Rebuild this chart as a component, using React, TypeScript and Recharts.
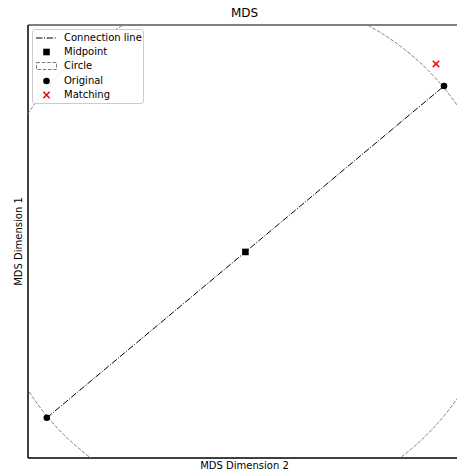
import React from "react";
import {
  ScatterChart,
  Scatter,
  XAxis,
  YAxis,
  ReferenceDot,
  ReferenceArea,
  Legend,
} from "recharts";

// ---- data ----
const xDomain: [number, number] = [-0.844, 0.837];
const yDomain: [number, number] = [-0.8, 0.881];
const originalPoints = [
  { x: -0.771, y: -0.644 },
  { x: 0.771, y: 0.644 },
];
const midpointPoints = [{ x: 0, y: 0 }];
const matchingPoints = [{ x: 0.74, y: 0.73 }];
const circleCenter = { x: 0, y: 0 };
const circleRadius = 1.0;
const legendLabels = ["Connection line", "Midpoint", "Circle", "Original", "Matching"];
const titleText = "MDS";
const xLabel = "MDS Dimension 2";
const yLabel = "MDS Dimension 1";

// ---- layout ----
const W = 470;
const H = 476;
const M = { top: 25, right: 9, bottom: 0, left: 0 };
const Y_AXIS_W = 28;
const X_AXIS_H = 18;
const PLOT_X = M.left + Y_AXIS_W;
const PLOT_Y = M.top;
const PLOT_W = W - M.left - M.right - Y_AXIS_W;
const PLOT_H = H - M.top - M.bottom - X_AXIS_H;
const PX_PER_UNIT = PLOT_W / (xDomain[1] - xDomain[0]);
const FONT = "'DejaVu Sans', sans-serif";

const DotShape = (p: any) => <circle cx={p.cx} cy={p.cy} r={3.3} fill="#000" />;
const SquareShape = (p: any) => (
  <rect x={p.cx - 3.3} y={p.cy - 3.3} width={6.6} height={6.6} fill="#000" />
);
const CrossShape = (p: any) => (
  <path
    d={`M${p.cx - 3.2},${p.cy - 3.2}L${p.cx + 3.2},${p.cy + 3.2}M${p.cx + 3.2},${p.cy - 3.2}L${p.cx - 3.2},${p.cy + 3.2}`}
    stroke="#ff0000"
    strokeWidth={1.5}
    fill="none"
  />
);
const NoShape = () => <g />;
const CircleShape = (p: any) => (
  <g>
    <defs>
      <clipPath id="mds-plot-clip">
        <rect x={PLOT_X} y={PLOT_Y} width={PLOT_W} height={PLOT_H} />
      </clipPath>
    </defs>
    <circle
      cx={p.cx}
      cy={p.cy}
      r={circleRadius * PX_PER_UNIT}
      fill="none"
      stroke="#808080"
      strokeWidth={1}
      strokeDasharray="3.7 1.6"
      clipPath="url(#mds-plot-clip)"
    />
  </g>
);

const handles = [
  <line x1={0} y1={7} x2={21} y2={7} stroke="#000" strokeWidth={1} strokeDasharray="6.4 1.6 1 1.6" />,
  <rect x={7.2} y={3.7} width={6.6} height={6.6} fill="#000" />,
  <rect x={0.5} y={3.5} width={20} height={7} fill="none" stroke="#808080" strokeWidth={1} strokeDasharray="3.7 1.6" />,
  <circle cx={10.5} cy={7} r={3.3} fill="#000" />,
  <path d="M7.3,3.8L13.7,10.2M13.7,3.8L7.3,10.2" stroke="#ff0000" strokeWidth={1.5} fill="none" />,
];

const LegendBox = () => (
  <div
    style={{
      boxSizing: "border-box",
      width: 112,
      height: 75,
      border: "1px solid #cccccc",
      borderRadius: 3,
      background: "rgba(255,255,255,0.8)",
      paddingTop: 0.5,
      fontFamily: FONT,
      fontSize: 10,
      color: "#000",
    }}
  >
    {legendLabels.map((label, i) => (
      <div key={label} style={{ display: "flex", alignItems: "center", height: 14.3 }}>
        <svg width={21} height={14} style={{ marginLeft: 3, marginRight: 7, display: "block" }}>
          {handles[i]}
        </svg>
        <span style={{ lineHeight: "14px", whiteSpace: "nowrap" }}>{label}</span>
      </div>
    ))}
  </div>
);

const XLabel = (props: any) => {
  const vb = props.viewBox;
  return (
    <text x={vb.x + vb.width / 2} y={vb.y + 10.5} textAnchor="middle" fontFamily={FONT} fontSize={10} fill="#000">
      {xLabel}
    </text>
  );
};
const YLabel = (props: any) => {
  const vb = props.viewBox;
  const x = 22;
  const y = vb.y + vb.height / 2;
  return (
    <text x={x} y={y} transform={`rotate(-90, ${x}, ${y})`} textAnchor="middle" fontFamily={FONT} fontSize={10} fill="#000">
      {yLabel}
    </text>
  );
};

export default function App() {
  return (
    <div
      style={{
        position: "absolute",
        left: 0,
        top: 0,
        width: 457,
        height: 476,
        overflow: "hidden",
        background: "#fff",
      }}
    >
      <div
        style={{
          position: "absolute",
          left: Y_AXIS_W,
          top: 6,
          width: PLOT_W,
          textAlign: "center",
          fontFamily: FONT,
          fontSize: 12,
          lineHeight: "14px",
          color: "#000",
        }}
      >
        {titleText}
      </div>
      <ScatterChart width={W} height={H} margin={M} style={{ position: "absolute", left: 0, top: 0 }}>
        <XAxis
          type="number"
          dataKey="x"
          domain={xDomain}
          allowDataOverflow
          tick={false}
          tickLine={false}
          height={X_AXIS_H}
          axisLine={{ stroke: "#000", strokeWidth: 1 }}
          label={<XLabel />}
        />
        <YAxis
          type="number"
          dataKey="y"
          domain={yDomain}
          allowDataOverflow
          tick={false}
          tickLine={false}
          width={Y_AXIS_W}
          axisLine={{ stroke: "#000", strokeWidth: 1 }}
          label={<YLabel />}
        />
        <ReferenceArea
          x1={xDomain[0]}
          x2={xDomain[1]}
          y1={yDomain[0]}
          y2={yDomain[1]}
          fill="none"
          fillOpacity={0}
          stroke="#000"
          strokeWidth={1}
        />
        <ReferenceDot
          x={circleCenter.x}
          y={circleCenter.y}
          ifOverflow="hidden"
          shape={CircleShape}
        />
        <Scatter
          name="Connection line"
          data={originalPoints}
          line={{ stroke: "#000", strokeWidth: 1, strokeDasharray: "6.4 1.6 1 1.6" }}
          shape={NoShape}
          isAnimationActive={false}
        />
        <Scatter name="Midpoint" data={midpointPoints} shape={SquareShape} isAnimationActive={false} />
        <Scatter name="Original" data={originalPoints} shape={DotShape} isAnimationActive={false} />
        <Scatter name="Matching" data={matchingPoints} shape={CrossShape} isAnimationActive={false} />
        <Legend
          layout="vertical"
          align="center"
          verticalAlign="middle"
          content={<LegendBox />}
          wrapperStyle={{ left: 32, top: 29, width: 112, height: 75, margin: 0 }}
        />
      </ScatterChart>
    </div>
  );
}
